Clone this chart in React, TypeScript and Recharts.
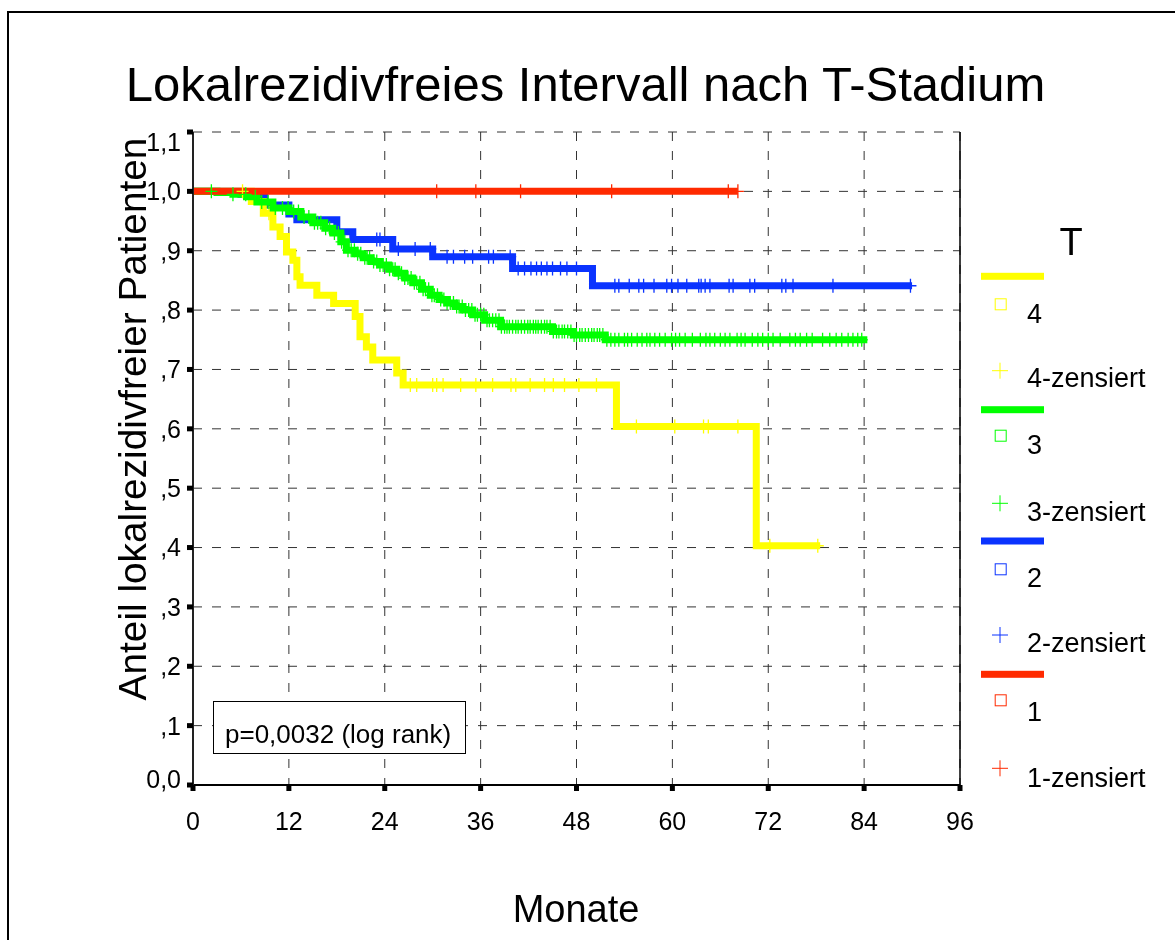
import React from 'react';
import {
  ComposedChart,
  Line,
  Scatter,
  XAxis,
  YAxis,
  CartesianGrid,
  ReferenceLine,
} from 'recharts';

// Kaplan-Meier steps (months, proportion)
const T4_TIMES = [0, 7.3, 8.8, 10, 10.9, 11.7, 12.5, 13, 13.4, 15.5, 17.6, 20.3, 20.9, 21.7, 22.5, 25.5, 26.3, 53, 70.5, 78.5];
const T4_SURV = [1, 0.983, 0.963, 0.94, 0.924, 0.898, 0.884, 0.856, 0.842, 0.825, 0.811, 0.789, 0.755, 0.738, 0.716, 0.694, 0.674, 0.604, 0.403, 0.403];
const T4_CENSOR = [6.2, 9.5, 27.2, 28, 30, 30.5, 31.3, 33.5, 35.4, 37.5, 39.8, 40.4, 42.2, 44, 45.1, 46.5, 48.3, 50.5, 55.5, 60.3, 63.9, 64.5, 68.2, 72.2, 78.2];

const T3_TIMES = [0, 3, 5, 6.7, 8, 10, 12, 13.5, 15, 16.5, 17.5, 18.5, 19.2, 20.3, 21.3, 22.3, 23.4, 24.5, 25.5, 26.5, 27.5, 28.6, 29.7, 30.8, 31.8, 32.8, 33.8, 35, 36.5, 38.5, 45, 47.6, 51.6, 84.4];
const T3_SURV = [1, 0.998, 0.995, 0.991, 0.982, 0.972, 0.966, 0.957, 0.947, 0.938, 0.93, 0.915, 0.901, 0.895, 0.888, 0.882, 0.876, 0.869, 0.862, 0.854, 0.846, 0.835, 0.825, 0.818, 0.812, 0.806, 0.8, 0.792, 0.783, 0.772, 0.764, 0.758, 0.75, 0.75];
const T3_CENSOR = [
  2.3, 5, 6.6, 7.8, 8.6, 9.4, 10.3, 11.2, 11.9, 12.6, 13.2, 13.9, 14.5, 15.2, 15.6, 16, 16.6, 17.1, 17.7, 18.2, 18.6, 19, 19.4,
  19.8, 20.2, 20.6, 21, 21.5, 21.8, 22.1, 22.6, 23, 23.4, 23.8, 24.2, 24.6, 25, 25.3, 25.7, 26.1, 26.5, 26.9, 27.3, 27.7, 28,
  28.4, 28.8, 29.1, 29.5, 29.9, 30.2, 30.6, 31, 31.4, 31.8, 32.2, 32.6, 33, 33.3, 33.7, 34.1, 34.5, 34.9, 35.3, 35.6, 36, 36.4,
  36.8, 37.1, 37.5, 37.9, 38.3, 38.6, 39, 39.3, 39.6, 40, 40.4, 40.7, 41.1, 41.5, 41.9, 42.2, 42.6, 42.9, 43.2, 43.6, 44, 44.3,
  44.7, 45.1, 45.5, 45.8, 46.2, 46.5, 46.9, 47.3, 47.7, 48, 48.4, 48.7, 49.1, 49.5, 49.9, 50.2, 50.6, 50.9, 51.3, 51.8, 52.3,
  52.8, 53.3, 54, 54.4, 54.9, 55.6, 56.2, 56.8, 57.2, 57.8, 58.4, 59.1, 59.9, 60.4, 60.9, 61.6, 62.5, 63.5, 64.2, 64.7, 65.3,
  66, 66.6, 67.2, 68.1, 68.6, 69.1, 70, 70.7, 71.3, 72, 72.6, 73.5, 74.7, 75.4, 76, 76.8, 77.5, 78.8, 79.7, 80.5, 81.2, 82,
  82.6, 83.2, 83.7,
];

const T2_TIMES = [0, 6, 7.5, 9, 12, 13, 18, 20, 25, 30, 40, 50, 90];
const T2_SURV = [1, 0.995, 0.99, 0.977, 0.962, 0.952, 0.932, 0.919, 0.903, 0.89, 0.87, 0.841, 0.841];
const T2_CENSOR = [23, 23.4, 25.7, 27.8, 29.7, 31.8, 32.6, 34, 35, 37, 37.6, 39.7, 40.7, 41.5, 42.3, 43, 43.6, 44.3, 45, 46, 46.8, 48, 52.8, 53.3, 54.6, 55.8, 56.4, 57.7, 59.3, 59.9, 60.7, 61.8, 63.3, 63.6, 64.1, 64.7, 67.1, 67.6, 69.7, 70.3, 73.7, 74.2, 75.1, 80.1, 89.8];

const T1_TIMES = [-0.9, 68.2];
const T1_SURV = [1, 1];
const T1_CENSOR = [30.5, 35.4, 41, 52.4, 67, 68.2];

const X_TICKS = [0, 12, 24, 36, 48, 60, 72, 84, 96];
const Y_TICKS = [0, 0.1, 0.2, 0.3, 0.4, 0.5, 0.6, 0.7, 0.8, 0.9, 1.0, 1.1];

const LEGEND_GROUPS = ['4', '3', '2', '1'];

const COLORS: Record<string, string> = {
  '4': '#ffff00',
  '3': '#00ff00',
  '2': '#0a33ff',
  '1': '#ff2a00',
};

const FONT = 'Arial, "Liberation Sans", sans-serif';

const steps = (times: number[], surv: number[]) => times.map((x, i) => ({ x, y: surv[i] }));

const stepAt = (times: number[], surv: number[], t: number) => {
  let v = surv[0];
  for (let i = 0; i < times.length; i++) if (times[i] <= t) v = surv[i];
  return v;
};

const censored = (times: number[], surv: number[], cens: number[]) =>
  cens.map((x) => ({ x, y: stepAt(times, surv, x) }));

const fmtY = (v: number) => {
  if (v === 0) return '0,0';
  if (v >= 0.95) return v.toFixed(1).replace('.', ',');
  return ',' + Math.round(v * 10);
};

const YTick = (props: any) => {
  const { x, y, payload } = props;
  const v = payload.value;
  const off = v > 1.05 ? 10 : v === 0 ? -6 : 0;
  return (
    <text x={x} y={y + off} dy="0.355em" textAnchor="end" fontSize={25} fontFamily={FONT} fill="#000">
      {fmtY(v)}
    </text>
  );
};

const plusShape = (color: string) => (props: any) => {
  const { cx, cy } = props;
  return (
    <path
      d={`M${cx},${cy - 7}V${cy + 7}M${cx - 6},${cy}H${cx + 6}`}
      stroke={color}
      strokeWidth={1.3}
      fill="none"
    />
  );
};

// text placed by its baseline (line-height = font size)
const Txt = ({ x, base, size, center, children }: any) => (
  <div
    style={{
      position: 'absolute',
      left: x,
      top: base - 0.8465 * size,
      fontSize: size,
      lineHeight: `${size}px`,
      fontFamily: FONT,
      whiteSpace: 'nowrap',
      transform: center ? 'translateX(-50%)' : undefined,
      color: '#000',
    }}
  >
    {children}
  </div>
);

const LEGEND_LINE_Y = [268.3, 401.7, 533, 666.3];
const LEGEND_SQ_Y = [296.3, 427.7, 561.3, 692.3];
const LEGEND_PLUS_Y = [362.7, 495.3, 627, 760.3];
const LEGEND_LABEL_BASE = [316, 447, 580.3, 713.7];
const LEGEND_CENS_BASE = [380.3, 513.7, 645.3, 780.3];

export default function App() {
  // drawing order: red on top of the lines, censor marks above everything
  const series = [
    { key: '2', t: T2_TIMES, s: T2_SURV, c: T2_CENSOR },
    { key: '4', t: T4_TIMES, s: T4_SURV, c: T4_CENSOR },
    { key: '3', t: T3_TIMES, s: T3_SURV, c: T3_CENSOR },
    { key: '1', t: T1_TIMES, s: T1_SURV, c: T1_CENSOR },
  ];

  return (
    <div style={{ position: 'relative', width: 1159, height: 924, overflow: 'hidden', background: '#fff' }}>
      <div
        style={{
          position: 'fixed',
          left: 7,
          top: 11,
          right: -20,
          bottom: -20,
          borderLeft: '2px solid #000',
          borderTop: '2px solid #000',
          pointerEvents: 'none',
        }}
      />
      <ComposedChart width={1159} height={924} margin={{ top: 124, right: 207, left: 0, bottom: 0 }}>
        <CartesianGrid stroke="#333" strokeDasharray="9 10" strokeWidth={1} />
        <XAxis
          dataKey="x"
          type="number"
          domain={[0, 96]}
          ticks={X_TICKS}
          height={147}
          tickSize={6}
          tickMargin={21}
          axisLine={{ stroke: '#000', strokeWidth: 2 }}
          tickLine={{ stroke: '#000', strokeWidth: 5 }}
          tick={{ fontSize: 25, fill: '#000', fontFamily: FONT }}
          allowDataOverflow
        />
        <YAxis
          type="number"
          domain={[0, 1.1]}
          ticks={Y_TICKS}
          width={185}
          tickSize={6}
          tickMargin={6}
          axisLine={{ stroke: '#222', strokeWidth: 2 }}
          tickLine={{ stroke: '#000', strokeWidth: 5 }}
          tick={<YTick />}
          allowDataOverflow
        />
        <ReferenceLine x={96} stroke="#000" strokeWidth={1.5} />
        {series.map((g) => (
          <Line
            key={'l' + g.key}
            data={steps(g.t, g.s)}
            dataKey="y"
            type="stepAfter"
            stroke={COLORS[g.key]}
            strokeWidth={7}
            dot={false}
            activeDot={false}
            isAnimationActive={false}
          />
        ))}
        {series.map((g) => (
          <Scatter
            key={'c' + g.key}
            data={censored(g.t, g.s, g.c)}
            dataKey="y"
            shape={plusShape(COLORS[g.key])}
            isAnimationActive={false}
          />
        ))}
      </ComposedChart>

      <Txt x={577.5} base={93} size={49} center>
        Lokalrezidivfreies Intervall nach T-Stadium
      </Txt>

      <div
        style={{
          position: 'absolute',
          left: 124.8,
          top: 410.5,
          fontSize: 38.8,
          lineHeight: '38.8px',
          fontFamily: FONT,
          whiteSpace: 'nowrap',
          transform: 'translate(-50%, -50%) rotate(-90deg)',
        }}
      >
        Anteil lokalrezidivfreier Patienten
      </div>

      <Txt x={568} base={914} size={38} center>
        Monate
      </Txt>

      <div
        style={{
          position: 'absolute',
          left: 205,
          top: 693,
          width: 253,
          height: 53,
          boxSizing: 'border-box',
          border: '1px solid #000',
          background: '#fff',
        }}
      />
      <Txt x={217} base={734.7} size={26}>
        p=0,0032 (log rank)
      </Txt>

      <Txt x={1063} base={247} size={38} center>
        T
      </Txt>
      <svg style={{ position: 'absolute', left: 0, top: 0 }} width={1159} height={924}>
        {LEGEND_GROUPS.map((g, i) => (
          <g key={g}>
            <rect x={973} y={LEGEND_LINE_Y[i] - 3.5} width={63} height={7} fill={COLORS[g]} />
            <rect
              x={992.7 - 5.5}
              y={LEGEND_SQ_Y[i] - 5.5}
              width={11}
              height={11}
              fill="none"
              stroke={COLORS[g]}
              strokeWidth={1}
            />
            <path
              d={`M992,${LEGEND_PLUS_Y[i] - 8}V${LEGEND_PLUS_Y[i] + 8}M984,${LEGEND_PLUS_Y[i]}H1000`}
              stroke={COLORS[g]}
              strokeWidth={1}
            />
          </g>
        ))}
      </svg>
      {LEGEND_GROUPS.map((g, i) => (
        <React.Fragment key={g}>
          <Txt x={1019} base={LEGEND_LABEL_BASE[i]} size={27}>
            {g}
          </Txt>
          <Txt x={1019} base={LEGEND_CENS_BASE[i]} size={27}>
            {g}-zensiert
          </Txt>
        </React.Fragment>
      ))}
    </div>
  );
}
